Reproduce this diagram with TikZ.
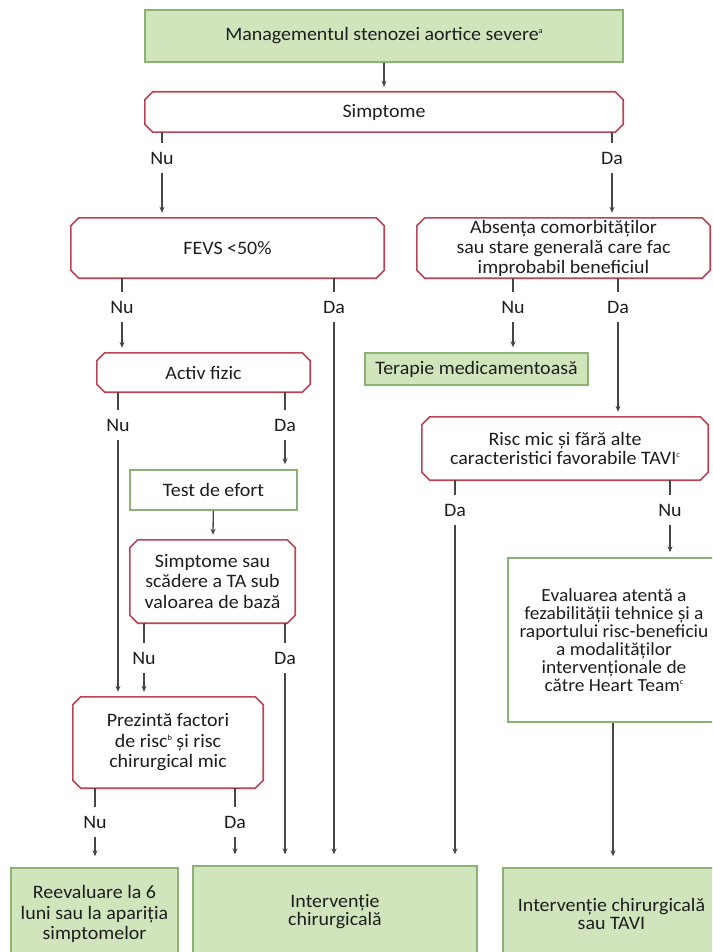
\documentclass[tikz,border=0pt]{standalone}
\usepackage{fontspec}
\setmainfont{Carlito}[FakeStretch=1.05]
\usetikzlibrary{arrows.meta,calc}
\definecolor{gfill}{RGB}{208,229,188}
\definecolor{gline}{RGB}{140,178,118}
\definecolor{rline}{RGB}{184,68,86}
\definecolor{cline}{RGB}{70,70,70}
\definecolor{txt}{RGB}{30,30,30}
\newcommand{\supx}[1]{\raisebox{0.8ex}{\fontsize{8}{8}\selectfont #1}}
\newcommand{\chamf}[1]{\draw[rbord] ([xshift=8pt]#1.north west) -- ([xshift=-8pt]#1.north east) -- ([yshift=-8pt]#1.north east) -- ([yshift=8pt]#1.south east) -- ([xshift=-8pt]#1.south east) -- ([xshift=8pt]#1.south west) -- ([yshift=8pt]#1.south west) -- ([yshift=-8pt]#1.north west) -- cycle;}
\begin{document}
\begin{tikzpicture}[x=1pt,y=-1pt,
  font=\fontsize{19}{19.5}\selectfont,
  every node/.style={text=txt},
  bx/.style={rectangle, inner sep=0pt, align=center},
  gbox/.style={bx, fill=gfill, draw=gline, line width=1.4pt},
  wgbox/.style={bx, fill=white, draw=gline, line width=1.4pt},
  rbox/.style={bx, fill=white},
  rbord/.style={draw=rline, line width=1.6pt},
  lbl/.style={inner sep=0pt, minimum height=30pt, minimum width=20pt},
  cn/.style={draw=cline, line width=1.3pt},
  arr/.style={cn, -{Stealth[length=6pt,width=5pt]}, shorten >=5pt},
  barr/.style={arr, shorten >=11pt}]
\useasboundingbox (0,0) rectangle (712,952);
\fill[white] (0,0) rectangle (712,952);
\clip (0,0) rectangle (712,952);

% boxes
\node[gbox, minimum width=478pt, minimum height=52pt] (top) at (384,36) {Managementul stenozei aortice severe\supx{a}};
\node[rbox, minimum width=478pt, minimum height=40pt] (simp) at (384,112) {Simptome};
\node[rbox, minimum width=313pt, minimum height=60pt] (fevs) at (227.5,248) {FEVS <50\%};
\node[rbox, minimum width=293pt, minimum height=60pt, font=\fontsize{19}{20}\selectfont] (abs) at (563.5,248) {Absența comorbităților\\sau stare generală care fac\\improbabil beneficiul};
\node[rbox, minimum width=213pt, minimum height=39pt] (activ) at (203.5,372.5) {Activ fizic};
\node[gbox, minimum width=223pt, minimum height=32pt] (terapie) at (476.5,369) {Terapie medicamentoasă};
\node[rbox, minimum width=286pt, minimum height=63pt] (risc) at (565,448.5) {Risc mic și fără alte\\caracteristici favorabile TAVI\supx{c}};
\node[wgbox, minimum width=167pt, minimum height=40pt] (test) at (213.5,490) {Test de efort};
\node[rbox, minimum width=165pt, minimum height=83pt, font=\fontsize{19}{20.5}\selectfont] (ssau) at (212.5,581.5) {Simptome sau\\scădere a TA sub\\valoarea de bază};
\node[wgbox, minimum width=212pt, minimum height=164pt, font=\fontsize{18.5}{18}\selectfont] (eval) at (614,640) {Evaluarea atentă a\\fezabilității tehnice și a\\raportului risc-beneficiu\\a modalităților\\intervenționale de\\către Heart Team\supx{c}};
\node[rbox, minimum width=190pt, minimum height=91pt, font=\fontsize{19}{20.5}\selectfont] (prez) at (168,742.5) {Prezintă factori\\de risc\supx{b} și risc\\chirurgical mic};
\node[gbox, minimum width=167pt, minimum height=92pt, font=\fontsize{19}{20.5}\selectfont] (reev) at (94.5,914) {Reevaluare la 6\\luni sau la apariția\\simptomelor};
\node[gbox, minimum width=284pt, minimum height=92pt, font=\fontsize{19}{18}\selectfont] (interv) at (335,912) {Intervenție\\chirurgicală};
\node[gbox, minimum width=217pt, minimum height=92pt, font=\fontsize{19}{18}\selectfont] (itavi) at (611.5,914) {Intervenție chirurgicală\\sau TAVI};

\chamf{simp}
\chamf{fevs}
\chamf{abs}
\chamf{activ}
\chamf{risc}
\chamf{ssau}
\chamf{prez}

% labels
\node[lbl] (nS) at (162,158) {Nu};
\node[lbl] (dS) at (612,158) {Da};
\node[lbl] (nF) at (122,307) {Nu};
\node[lbl] (dF) at (334,307) {Da};
\node[lbl] (nA) at (513,307) {Nu};
\node[lbl] (dA) at (618,307) {Da};
\node[lbl] (nAc) at (118,425) {Nu};
\node[lbl] (dAc) at (285,425) {Da};
\node[lbl] (dR) at (455,510) {Da};
\node[lbl] (nR) at (670,510) {Nu};
\node[lbl] (nSs) at (144,658) {Nu};
\node[lbl] (dSs) at (285,658) {Da};
\node[lbl] (nP) at (95,822) {Nu};
\node[lbl] (dP) at (235,822) {Da};

% connectors
\draw[arr] (top) -- (simp);
\draw[cn] (simp.south -| nS) -- (nS.north);
\draw[arr] (nS.south) -- (fevs.north -| nS);
\draw[cn] (simp.south -| dS) -- (dS.north);
\draw[arr] (dS.south) -- (abs.north -| dS);

\draw[cn] (fevs.south -| nF) -- (nF.north);
\draw[arr] (nF.south) -- (activ.north -| nF);
\draw[cn] (fevs.south -| dF) -- (dF.north);
\draw[barr] (dF.south) -- (interv.north -| dF);

\draw[cn] (abs.south -| nA) -- (nA.north);
\draw[arr] (nA.south) -- (terapie.north -| nA);
\draw[cn] (abs.south -| dA) -- (dA.north);
\draw[arr] (dA.south) -- (risc.north -| dA);

\draw[cn] (activ.south -| nAc) -- (nAc.north);
\draw[arr] (nAc.south) -- (prez.north -| nAc);
\draw[cn] (activ.south -| dAc) -- (dAc.north);
\draw[arr] (dAc.south) -- (test.north -| dAc);
\draw[arr] (test) -- (ssau);

\draw[cn] (risc.south -| dR) -- (dR.north);
\draw[barr] (dR.south) -- (interv.north -| dR);
\draw[cn] (risc.south -| nR) -- (nR.north);
\draw[arr] (nR.south) -- (eval.north -| nR);

\draw[cn] (ssau.south -| nSs) -- (nSs.north);
\draw[arr] (nSs.south) -- (prez.north -| nSs);
\draw[cn] (ssau.south -| dSs) -- (dSs.north);
\draw[barr] (dSs.south) -- (interv.north -| dSs);

\draw[barr] (eval.south -| 613,0) -- (itavi.north -| 613,0);

\draw[cn] (prez.south -| nP) -- (nP.north);
\draw[barr] (nP.south) -- (reev.north -| nP);
\draw[cn] (prez.south -| dP) -- (dP.north);
\draw[barr] (dP.south) -- (interv.north -| dP);
\end{tikzpicture}
\end{document}
